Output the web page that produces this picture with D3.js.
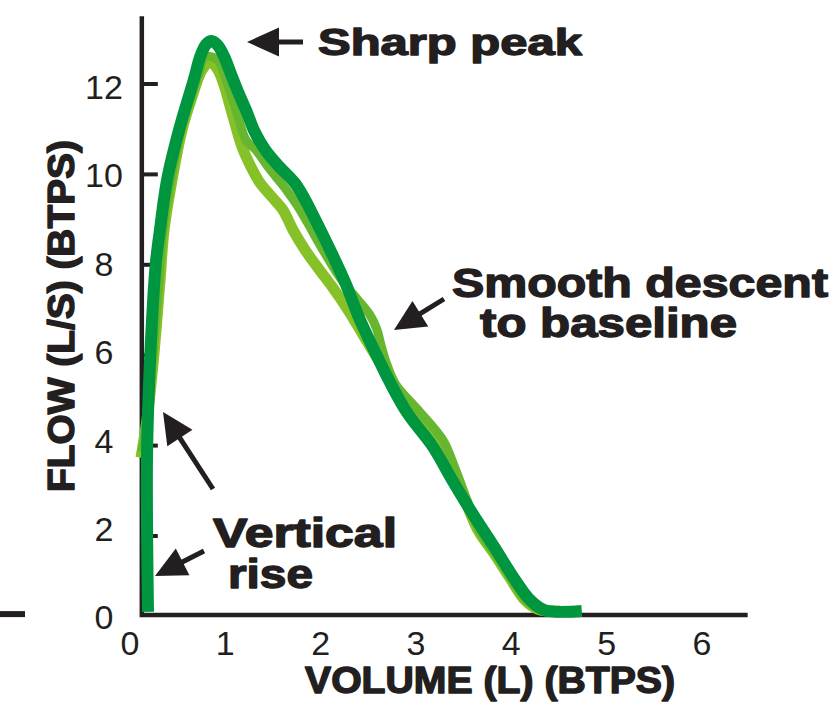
<!DOCTYPE html>
<html>
<head>
<meta charset="utf-8">
<script src="https://cdn.jsdelivr.net/npm/d3@7"></script>
<style>
  html, body { margin: 0; padding: 0; background: #ffffff; }
  svg { display: block; }
  text { font-family: "Liberation Sans", Arial, sans-serif; fill: #231f20; }
</style>
</head>
<body>
<svg id="chart" width="836" height="711"></svg>
<script>
// ---------------- data ----------------
const volumeTicks = [0, 1, 2, 3, 4, 5, 6];
const flowTicks = [0, 2, 4, 6, 8, 10, 12];
const flowTickMarks = [2, 4, 6, 8, 10, 12];

// [volume (L), flow (L/s)]
const lightCurve = [
  [0.136, 3.73], [0.199, 4.57], [0.273, 6.05], [0.336, 7.66], [0.378, 8.77],
  [0.462, 9.88], [0.566, 10.98], [0.671, 11.71], [0.776, 12.31], [0.860, 12.49],
  [0.944, 12.31], [1.007, 11.98], [1.091, 11.36], [1.196, 10.61], [1.280, 10.21],
  [1.385, 9.81], [1.510, 9.50], [1.626, 9.21], [1.731, 8.77], [1.857, 8.33],
  [1.993, 7.93], [2.150, 7.49], [2.308, 7.00], [2.455, 6.49], [2.612, 5.94],
  [2.780, 5.39], [2.979, 4.79], [3.241, 4.12], [3.399, 3.50], [3.535, 2.80],
  [3.671, 2.13], [3.850, 1.58], [4.007, 1.07], [4.164, 0.58], [4.301, 0.38],
  [4.532, 0.34]
];

const mediumCurve = [
  [0.147, 3.86], [0.199, 4.57], [0.262, 6.05], [0.325, 7.66], [0.367, 8.77],
  [0.451, 9.88], [0.556, 10.98], [0.661, 11.71], [0.755, 12.31], [0.797, 12.58],
  [0.881, 12.60], [0.955, 12.49], [1.028, 12.09], [1.133, 11.43], [1.238, 10.76],
  [1.343, 10.54], [1.479, 10.14], [1.647, 9.70], [1.773, 9.32], [1.878, 8.95],
  [2.014, 8.44], [2.192, 7.82], [2.297, 7.51], [2.413, 7.22], [2.538, 6.89],
  [2.612, 6.56], [2.654, 6.22], [2.706, 5.85], [2.811, 5.34], [3.042, 4.79],
  [3.304, 4.12], [3.430, 3.50], [3.556, 2.80], [3.682, 2.13], [3.860, 1.58],
  [4.017, 1.07], [4.175, 0.58], [4.322, 0.38], [4.532, 0.34]
];

const darkCurve = [
  [0.21, 0.32], [0.20, 3.84], [0.235, 6.05], [0.29, 7.99], [0.335, 8.77],
  [0.41, 9.88], [0.535, 10.98], [0.69, 12.09], [0.76, 12.62], [0.82, 12.88],
  [0.875, 12.95], [0.94, 12.86], [1.01, 12.60], [1.08, 12.22], [1.16, 11.80],
  [1.25, 11.36], [1.32, 10.98], [1.44, 10.54], [1.57, 10.21], [1.75, 9.81],
  [1.86, 9.43], [1.95, 9.06], [2.12, 8.33], [2.28, 7.60], [2.42, 6.85],
  [2.58, 6.12], [2.75, 5.39], [2.93, 4.72], [3.20, 3.97], [3.40, 3.24],
  [3.61, 2.51], [3.84, 1.76], [4.06, 1.03], [4.22, 0.58], [4.37, 0.36],
  [4.76, 0.34]
];

const xTitle = "VOLUME (L) (BTPS)";
const yTitle = "FLOW (L/S) (BTPS)";

// ---------------- drawing ----------------
const ink = "#231f20";
const svg = d3.select("#chart");

const x = d3.scaleLinear().domain([0, 6]).range([128, 700]);
const y = d3.scaleLinear().domain([0, 12]).range([626.4, 84]);

const axisAt = { vol: 0.145, flow: 0.25 };
const axisEnd = { vol: 6.5, flow: 13.5 };

// stray dash at far left
svg.append("line")
  .attr("x1", 0).attr("x2", 25).attr("y1", y(axisAt.flow) - 1).attr("y2", y(axisAt.flow) - 1)
  .attr("stroke", ink).attr("stroke-width", 6);

// y tick marks (inside)
svg.selectAll(".ytick").data(flowTickMarks).join("line")
  .attr("x1", x(axisAt.vol)).attr("x2", x(axisAt.vol) + 16)
  .attr("y1", d => y(d)).attr("y2", d => y(d))
  .attr("stroke", ink).attr("stroke-width", 4);

// axis lines
svg.append("path")
  .attr("d", `M${x(axisAt.vol)},${y(axisEnd.flow)} L${x(axisAt.vol)},${y(axisAt.flow)} L${x(axisEnd.vol)},${y(axisAt.flow)}`)
  .attr("fill", "none").attr("stroke", ink).attr("stroke-width", 4.5)
  .attr("stroke-linejoin", "miter");

// tick labels
svg.selectAll(".ylab").data(flowTicks).join("text")
  .attr("x", 104).attr("y", d => y(d) + 3 + d)
  .attr("text-anchor", "middle")
  .attr("font-size", 34)
  .text(d => d);

svg.selectAll(".xlab").data(volumeTicks).join("text")
  .attr("x", d => x(d) + 2).attr("y", 655)
  .attr("text-anchor", "middle")
  .attr("font-size", 34)
  .text(d => d);

// curves
const line = d3.line()
  .x(d => x(d[0])).y(d => y(d[1]))
  .curve(d3.curveCatmullRom.alpha(0.5));

const series = [
  { data: lightCurve, color: "#86c227", width: 11 },
  { data: mediumCurve, color: "#66b72f", width: 9 },
  { data: darkCurve, color: "#009640", width: 12 }
];
svg.selectAll(".curve").data(series).join("path")
  .attr("d", d => line(d.data))
  .attr("fill", "none")
  .attr("stroke", d => d.color)
  .attr("stroke-width", d => d.width)
  .attr("stroke-linejoin", "round")
  .attr("stroke-linecap", "butt");

// heavy text helper
function heavy(sel) {
  return sel.attr("font-weight", "bold")
    .attr("stroke", ink).attr("stroke-width", 1.4)
    .attr("stroke-linejoin", "round")
    .attr("lengthAdjust", "spacingAndGlyphs");
}

// axis titles
heavy(svg.append("text")
  .attr("x", 305).attr("y", 693)
  .attr("font-size", 36)
  .attr("textLength", 370)
  .text(xTitle));

heavy(svg.append("text")
  .attr("transform", "translate(74,316) rotate(-90)")
  .attr("text-anchor", "middle")
  .attr("font-size", 36)
  .attr("textLength", 352)
  .text(yTitle));

// annotations
const notes = [
  { t: "Sharp peak", x: 318, y: 55, len: 264, fs: 37 },
  { t: "Smooth descent", x: 452, y: 297, len: 376, fs: 40 },
  { t: "to baseline", x: 480, y: 337, len: 257, fs: 40 },
  { t: "Vertical", x: 213, y: 547, len: 184, fs: 40 },
  { t: "rise", x: 228, y: 588, len: 85, fs: 40 }
];
notes.forEach(n => {
  heavy(svg.append("text")
    .attr("x", n.x).attr("y", n.y)
    .attr("font-size", n.fs)
    .attr("textLength", n.len)
    .text(n.t));
});

function arrow(tip, tail, headLen = 31, headHalf = 15, shaftW = 5) {
  const dx = tail[0] - tip[0], dy = tail[1] - tip[1];
  const L = Math.hypot(dx, dy);
  const ux = dx / L, uy = dy / L;
  const bx = tip[0] + ux * headLen, by = tip[1] + uy * headLen;
  const px = -uy, py = ux;
  svg.append("line")
    .attr("x1", bx - ux * 2).attr("y1", by - uy * 2)
    .attr("x2", tail[0]).attr("y2", tail[1])
    .attr("stroke", ink).attr("stroke-width", shaftW);
  svg.append("polygon")
    .attr("points", [
      [tip[0], tip[1]],
      [bx + px * headHalf, by + py * headHalf],
      [bx - px * headHalf, by - py * headHalf]
    ].map(p => p.join(",")).join(" "))
    .attr("fill", ink);
}
arrow([247, 42], [303, 42], 32, 14.5);
arrow([394, 330], [444, 299]);
arrow([163, 412], [213, 489]);
arrow([155, 576], [204, 551]);
</script>
</body>
</html>
